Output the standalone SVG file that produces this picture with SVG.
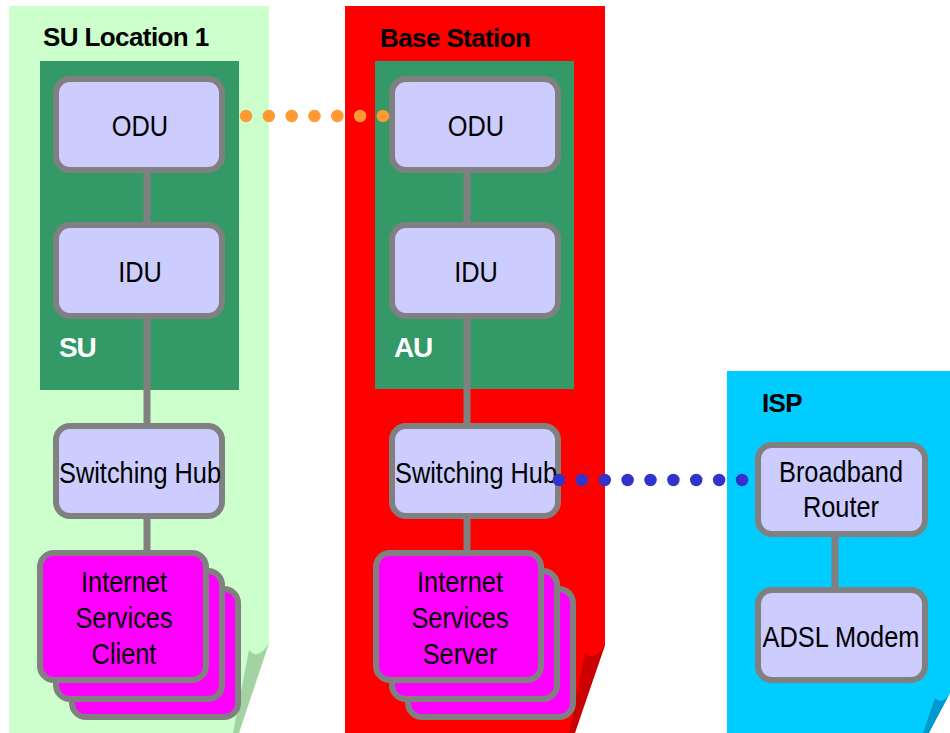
<svg xmlns="http://www.w3.org/2000/svg" width="950" height="733" viewBox="0 0 950 733">
<style>
.t{font-family:"Liberation Sans",Arial,sans-serif;font-size:30px;fill:#000;text-anchor:middle}
.title{font-family:"Liberation Sans",Arial,sans-serif;font-size:26px;font-weight:bold;fill:#000;letter-spacing:-0.6px}
.lbl{font-family:"Liberation Sans",Arial,sans-serif;font-size:28px;font-weight:bold;fill:#fff;letter-spacing:-1.2px}
.node{fill:#ccccff;stroke:#808080;stroke-width:6}
.card{fill:#ff00ff;stroke:#808080;stroke-width:6}
.wire{stroke:#808080;stroke-width:7;fill:none}
</style>
<rect width="950" height="733" fill="#fff"/>
<g id="panel-su-location">
<path d="M9,6H269V644L238,733H9Z" fill="#ccffcc"/>
<path d="M269,643Q258,661 249,650L233,733L239,733Z" fill="#a3d3a3"/>
<text class="title" x="43" y="46">SU Location 1</text>
</g>
<g id="panel-base-station">
<path d="M345,6H605V645L574,733H345Z" fill="#ff0000"/>
<path d="M605,645Q594,663 585,652L569,733L575,733Z" fill="#cc0000"/>
<text class="title" x="380" y="47">Base Station</text>
</g>
<g id="panel-isp">
<path d="M727,371H950V693L928,733H727Z" fill="#00ccff"/>
<path d="M950,693Q942,706 935,698L923,733L929,733Z" fill="#0099cc"/>
<text class="title" x="762" y="412">ISP</text>
</g>
<g id="su-box">
<rect x="40" y="61" width="199" height="329" fill="#339966"/>
<text class="lbl" x="59" y="357">SU</text>
</g>
<g id="au-box">
<rect x="375" y="61" width="199" height="328" fill="#339966"/>
<text class="lbl" x="394" y="357">AU</text>
</g>
<g id="su-odu">
<rect class="node" x="56" y="79" width="166" height="91" rx="14"/>
<text class="t" transform="translate(140,136) scale(0.845,1)">ODU</text>
</g>
<g id="su-idu">
<rect class="node" x="56" y="225" width="166" height="91" rx="14"/>
<text class="t" transform="translate(140,282) scale(0.845,1)">IDU</text>
</g>
<g id="su-hub">
<rect class="node" x="56" y="426" width="166" height="90" rx="14"/>
<text class="t" transform="translate(140,483) scale(0.845,1)">Switching Hub</text>
</g>
<g id="client">
<rect class="card" x="72" y="589" width="166" height="128" rx="14"/>
<rect class="card" x="56" y="571" width="166" height="128" rx="14"/>
<rect class="card" x="40" y="553" width="166" height="127" rx="14"/>
<text class="t" transform="translate(124,592) scale(0.845,1)"><tspan x="0" y="0">Internet</tspan><tspan x="0" y="36">Services</tspan><tspan x="0" y="72">Client</tspan></text>
</g>
<g id="bs-odu">
<rect class="node" x="392" y="79" width="166" height="91" rx="14"/>
<text class="t" transform="translate(476,136) scale(0.845,1)">ODU</text>
</g>
<g id="bs-idu">
<rect class="node" x="392" y="225" width="166" height="91" rx="14"/>
<text class="t" transform="translate(476,282) scale(0.845,1)">IDU</text>
</g>
<g id="bs-hub">
<rect class="node" x="392" y="426" width="166" height="90" rx="14"/>
<text class="t" transform="translate(476,483) scale(0.845,1)">Switching Hub</text>
</g>
<g id="server">
<rect class="card" x="408" y="589" width="165" height="128" rx="14"/>
<rect class="card" x="392" y="571" width="165" height="128" rx="14"/>
<rect class="card" x="376" y="553" width="165" height="127" rx="14"/>
<text class="t" transform="translate(460,592) scale(0.845,1)"><tspan x="0" y="0">Internet</tspan><tspan x="0" y="36">Services</tspan><tspan x="0" y="72">Server</tspan></text>
</g>
<g id="isp-router">
<rect class="node" x="758" y="445" width="167" height="89" rx="14"/>
<text class="t" transform="translate(841,482) scale(0.845,1)"><tspan x="0" y="0">Broadband</tspan><tspan x="0" y="35">Router</tspan></text>
</g>
<g id="isp-modem">
<rect class="node" x="758" y="590" width="167" height="90" rx="14"/>
<text class="t" transform="translate(841,647) scale(0.845,1)">ADSL Modem</text>
</g>
<g id="connectors">
<line class="wire" x1="147" y1="173" x2="147" y2="222"/>
<line class="wire" x1="147" y1="319" x2="147" y2="423"/>
<line class="wire" x1="147" y1="519" x2="147" y2="550"/>
<line class="wire" x1="467" y1="173" x2="467" y2="222"/>
<line class="wire" x1="467" y1="319" x2="467" y2="423"/>
<line class="wire" x1="467" y1="519" x2="467" y2="550"/>
<line class="wire" x1="835" y1="537" x2="835" y2="587"/>
<line x1="246" y1="116" x2="384" y2="116" stroke="#ff9933" stroke-width="12.5" stroke-linecap="round" stroke-dasharray="0 22.83"/>
<line x1="559" y1="480" x2="743" y2="480" stroke="#3333cc" stroke-width="12.5" stroke-linecap="round" stroke-dasharray="0 22.875"/>
</g>
</svg>
